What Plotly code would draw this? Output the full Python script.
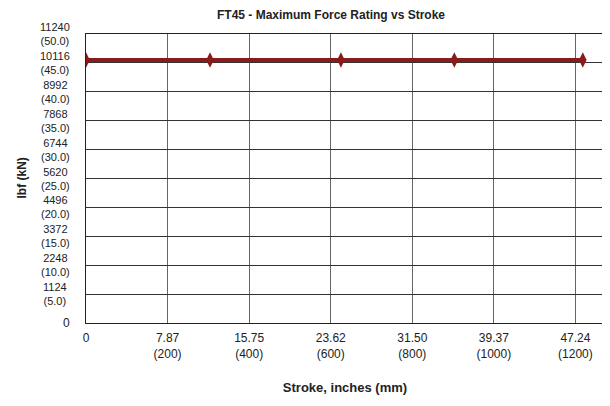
import plotly.graph_objects as go

# Data
stroke_mm = [0, 304, 625, 903, 1218]
force_kn = [45.5, 45.5, 45.5, 45.5, 45.5]

x_tick_mm = [0, 200, 400, 600, 800, 1000, 1200]
x_tick_in = ["0", "7.87", "15.75", "23.62", "31.50", "39.37", "47.24"]

y_tick_kn = [0, 5, 10, 15, 20, 25, 30, 35, 40, 45, 50]
y_tick_lbf = ["0", "1124", "2248", "3372", "4496", "5620", "6744", "7868", "8992", "10116", "11240"]

FONT = "Liberation Sans, Arial, sans-serif"
RED = "#8B1A1A"

# page body has an 8px default margin; the figure is sized to fill the rest
W, H = 602, 398

x_text = [x_tick_in[0]] + [f"{a}<br>({m})" for a, m in zip(x_tick_in[1:], x_tick_mm[1:])]

fig = go.Figure()
fig.add_trace(go.Scatter(
    x=stroke_mm, y=force_kn, mode="lines+markers",
    line=dict(color=RED, width=4),
    marker=dict(symbol="diamond-tall", size=11, color=RED),
    showlegend=False, hoverinfo="skip",
))

annotations = []
for v, lbf in zip(y_tick_kn, y_tick_lbf):
    if v == 0:
        annotations.append(dict(x=0, xref="paper", y=v, yref="y", text=lbf,
                                xanchor="right", yanchor="middle", xshift=-14, showarrow=False,
                                font=dict(family=FONT, size=12, color="#222")))
    else:
        annotations.append(dict(x=0, xref="paper", y=v, yref="y", text=f"{lbf}<br>({v:.1f})",
                                xanchor="center", yanchor="middle", align="center",
                                xshift=-31, borderpad=0, showarrow=False,
                                font=dict(family=FONT, size=11, color="#222")))

annotations.append(dict(x=0, xref="paper", y=0.5, yref="paper", text="<b>lbf (kN)</b>",
                        textangle=-90, xanchor="center", yanchor="middle", xshift=-65, showarrow=False,
                        font=dict(family=FONT, size=12, color="#222")))

fig.update_layout(
    width=W, height=H,
    margin=dict(l=78, r=6, t=26, b=83, autoexpand=False),
    paper_bgcolor="white", plot_bgcolor="white",
    title=dict(text="<b>FT45 - Maximum Force Rating vs Stroke</b>", x=323/W, xanchor="center",
               y=1 - 7/H, yanchor="middle", font=dict(family=FONT, size=12, color="#222")),
    xaxis=dict(range=[0, 1270], tickvals=x_tick_mm, ticktext=x_text,
               showgrid=True, gridcolor="#666", gridwidth=1,
               showline=True, linecolor="#222", linewidth=1, mirror=True,
               zeroline=False, ticks="", ticklabelstandoff=4,
               tickfont=dict(family=FONT, size=12, color="#222"),
               title=dict(text="<b>Stroke, inches (mm)</b>", font=dict(family=FONT, size=13, color="#222"),
                          standoff=22)),
    yaxis=dict(range=[0, 50], tickvals=y_tick_kn, showticklabels=False,
               showgrid=True, gridcolor="#333", gridwidth=1,
               showline=True, linecolor="#222", linewidth=1, mirror=True,
               zeroline=False, ticks=""),
    annotations=annotations,
)

fig.write_html("out.html")
